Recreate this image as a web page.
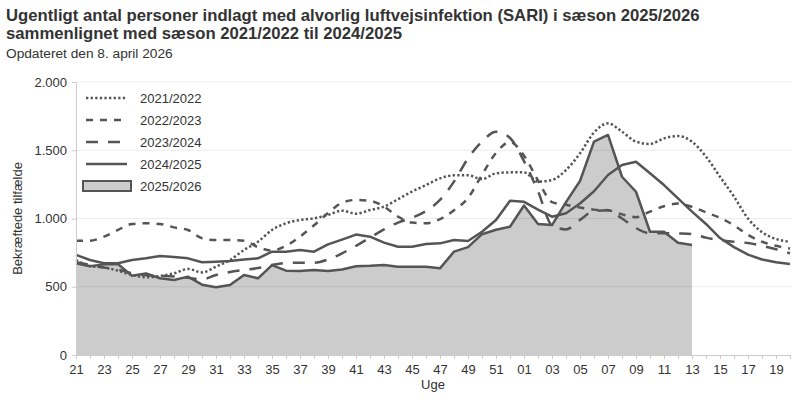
<!DOCTYPE html>
<html lang="da">
  <head>
    <meta charset="UTF-8" />
    <title>SARI indlæggelser</title>
    <script src="https://d3js.org/d3.v7.min.js"></script>
    <style>
      body {
        margin: 0;
        background: #fff;
        font-family: "Liberation Sans", Arial, sans-serif;
      }
      .title {
        font-size: 16.7px;
        font-weight: bold;
        fill: #333;
      }
      .subtitle {
        font-size: 13.7px;
        fill: #333;
      }
      .axis text {
        font-family: "Liberation Sans", Arial, sans-serif;
        font-size: 13px;
        fill: #333;
      }
      .axis path,
      .axis line {
        stroke: #ccc;
      }
      .grid line {
        stroke: #000;
        stroke-opacity: 0.08;
      }
      .axis-title {
        font-size: 13px;
        fill: #333;
      }
      .legend text {
        font-size: 13px;
        fill: #333;
      }
    </style>
  </head>
  <body>
    <div id="chart"></div>

    <script>
      // uger (x-akse)
      const weeks = [
        "21", "22", "23", "24", "25", "26", "27", "28", "29", "30",
        "31", "32", "33", "34", "35", "36", "37", "38", "39", "40",
        "41", "42", "43", "44", "45", "46", "47", "48", "49", "50",
        "51", "52", "01", "02", "03", "04", "05", "06", "07", "08",
        "09", "10", "11", "12", "13", "14", "15", "16", "17", "18",
        "19", "20"
      ];

      // sæsoner
      const season2021 = [
        696, 652, 642, 618, 586, 569, 579, 598, 630, 605,
        647, 696, 769, 830, 916, 965, 989, 1001, 1026, 1057,
        1035, 1062, 1087, 1141, 1197, 1245, 1294, 1316, 1316, 1289,
        1331, 1338, 1338, 1270, 1282, 1355, 1477, 1630, 1697, 1636,
        1563, 1546, 1587, 1604, 1563, 1453, 1306, 1160, 1000, 900,
        850, 830
      ];
      const season2022 = [
        837, 837, 867, 916, 960, 965, 960, 935, 916, 855,
        842, 842, 837, 790, 765, 800, 867, 950, 1040, 1115,
        1136, 1130, 1087, 1014, 970, 965, 996, 1060, 1150, 1320,
        1480, 1560, 1460, 1280, 1120, 1100, 1080, 1065, 1060, 1030,
        1010, 1050, 1090, 1110, 1085, 1045, 1005, 950, 880, 830,
        800, 780
      ];
      const season2023 = [
        680, 660, 640, 625, 600, 585, 580, 575, 565, 555,
        586, 608, 623, 637, 659, 674, 676, 676, 700, 745,
        800, 860, 920, 970, 1005, 1055, 1136, 1270, 1440, 1563,
        1636, 1590, 1420, 1200, 950, 920, 990, 1055, 1060, 1000,
        930, 892, 892, 890, 886, 860, 842, 830, 820, 800,
        775, 745
      ];
      const season2024 = [
        733, 696, 672, 672, 696, 708, 725, 718, 708, 680,
        684, 688, 700, 708, 757, 757, 769, 757, 810, 845,
        882, 867, 823, 793, 793, 813, 818, 842, 835, 903,
        989, 1130, 1122, 1065, 1013, 1038, 1110, 1200, 1319, 1392,
        1416, 1331, 1245, 1148, 1050, 960, 857, 790, 735, 700,
        680, 667
      ];
      // indeværende sæson (til og med uge 13)
      const season2025 = [
        672, 650, 664, 667, 580, 598, 562, 550, 574, 515,
        496, 513, 586, 562, 659, 618, 615, 623, 615, 626,
        650, 653, 659, 647, 647, 647, 635, 757, 790, 885,
        918, 940, 1095, 960, 952, 1120, 1275, 1563, 1612, 1306,
        1196, 903, 903, 823, 806
      ];

      const yTicks = [0, 500, 1000, 1500, 2000];
      const seasonNames = ["2021/2022", "2022/2023", "2023/2024", "2024/2025", "2025/2026"];

      const width = 800;
      const height = 400;
      const margin = { top: 82, right: 10, bottom: 45, left: 76 };
      const lineColor = "#555";

      const svg = d3
        .select("#chart")
        .append("svg")
        .attr("width", width)
        .attr("height", height);

      const x = d3
        .scalePoint()
        .domain(weeks)
        .range([margin.left, width - margin.right]);

      const y = d3
        .scaleLinear()
        .domain([0, 2000])
        .range([height - margin.bottom, margin.top]);

      const dk = d3.formatLocale({
        decimal: ",",
        thousands: ".",
        grouping: [3],
        currency: ["", " kr."],
      });

      // titel
      svg.append("text").attr("class", "title").attr("x", 6).attr("y", 21)
        .text("Ugentligt antal personer indlagt med alvorlig luftvejsinfektion (SARI) i sæson 2025/2026");
      svg.append("text").attr("class", "title").attr("x", 6).attr("y", 39)
        .text("sammenlignet med sæson 2021/2022 til 2024/2025");
      svg.append("text").attr("class", "subtitle").attr("x", 6).attr("y", 58)
        .text("Opdateret den 8. april 2026");

      // område for 2025/2026
      const current = season2025.map((v, i) => ({ week: weeks[i], value: v }));

      svg
        .append("path")
        .datum(current)
        .attr("fill", "#cccccc")
        .attr(
          "d",
          d3
            .area()
            .x((d) => x(d.week))
            .y0(y(0))
            .y1((d) => y(d.value))
        );

      // gitterlinjer
      svg
        .append("g")
        .attr("class", "grid")
        .selectAll("line")
        .data(yTicks.filter((d) => d > 0))
        .join("line")
        .attr("x1", margin.left)
        .attr("x2", width - 8)
        .attr("y1", (d) => y(d))
        .attr("y2", (d) => y(d));

      svg
        .append("path")
        .datum(current)
        .attr("fill", "none")
        .attr("stroke", lineColor)
        .attr("stroke-width", 2.5)
        .attr("stroke-linejoin", "round")
        .attr(
          "d",
          d3
            .line()
            .x((d) => x(d.week))
            .y((d) => y(d.value))
        );

      // tidligere sæsoner
      const series = [
        { name: seasonNames[0], values: season2021, dash: "2.3,2.3", curve: d3.curveMonotoneX },
        { name: seasonNames[1], values: season2022, dash: "7,7", curve: d3.curveMonotoneX },
        { name: seasonNames[2], values: season2023, dash: "12,10", curve: d3.curveMonotoneX },
        { name: seasonNames[3], values: season2024, dash: null, curve: d3.curveLinear },
      ];

      series.forEach((s) => {
        const pts = s.values.map((v, i) => ({ week: weeks[i], value: v }));
        svg
          .append("path")
          .datum(pts)
          .attr("fill", "none")
          .attr("stroke", lineColor)
          .attr("stroke-width", 2.5)
          .attr("stroke-dasharray", s.dash)
          .attr("stroke-linejoin", "round")
          .attr(
            "d",
            d3
              .line()
              .curve(s.curve)
              .x((d) => x(d.week))
              .y((d) => y(d.value))
          );
      });

      // akser
      svg
        .append("g")
        .attr("class", "axis")
        .attr("transform", `translate(0,${y(0)})`)
        .call(
          d3
            .axisBottom(x)
            .tickSize(4)
            .tickSizeOuter(0)
            .tickPadding(6)
            .tickFormat((d, i) => (i % 2 === 0 ? d : ""))
        );

      svg
        .append("g")
        .attr("class", "axis")
        .attr("transform", `translate(${margin.left},0)`)
        .call(
          d3
            .axisLeft(y)
            .tickValues(yTicks)
            .tickSize(4)
            .tickSizeOuter(0)
            .tickPadding(5)
            .tickFormat(dk.format(",d"))
        );

      svg
        .append("text")
        .attr("class", "axis-title")
        .attr("text-anchor", "middle")
        .attr("x", (margin.left + width - margin.right) / 2)
        .attr("y", 389)
        .text("Uge");

      svg
        .append("text")
        .attr("class", "axis-title")
        .attr("text-anchor", "middle")
        .attr("transform", `translate(22,${(y(0) + y(2000)) / 2}) rotate(-90)`)
        .text("Bekræftede tilfælde");

      // signaturforklaring
      const legend = svg.append("g").attr("class", "legend");
      const legendY = [98, 120, 142, 164, 186];

      series.forEach((s, i) => {
        legend
          .append("line")
          .attr("x1", 86)
          .attr("x2", 127)
          .attr("y1", legendY[i])
          .attr("y2", legendY[i])
          .attr("stroke", lineColor)
          .attr("stroke-width", 2.5)
          .attr("stroke-dasharray", s.dash);
        legend
          .append("text")
          .attr("x", 140)
          .attr("y", legendY[i])
          .attr("dy", "0.35em")
          .text(s.name);
      });

      legend
        .append("rect")
        .attr("x", 83)
        .attr("y", legendY[4] - 5)
        .attr("width", 48)
        .attr("height", 10)
        .attr("fill", "#cccccc")
        .attr("stroke", lineColor)
        .attr("stroke-width", 2);
      legend
        .append("text")
        .attr("x", 140)
        .attr("y", legendY[4])
        .attr("dy", "0.35em")
        .text(seasonNames[4]);
    </script>
  </body>
</html>
